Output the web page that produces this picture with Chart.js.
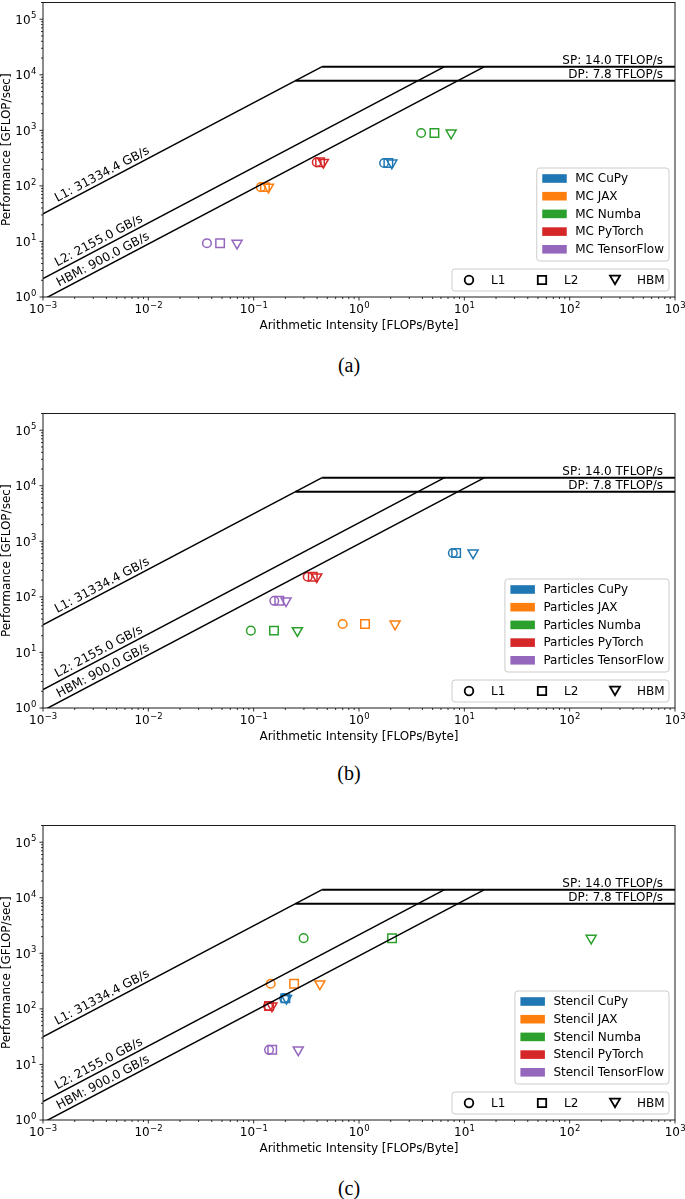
<!DOCTYPE html>
<html>
<head>
<meta charset="utf-8">
<script src="https://cdn.jsdelivr.net/npm/chart.js@4.4.0/dist/chart.umd.min.js"></script>
<style>
  body { margin: 0; background: #fff; width: 685px; height: 1199px; position: relative; overflow: hidden; }
  canvas { position: absolute; left: 0; }
  .cap { position: absolute; left: 0; width: 698px; text-align: center; font-family: "Liberation Serif", serif; font-size: 20px; line-height: 20px; }
</style>
</head>
<body>
<canvas id="chartA" width="685" height="350" style="top:-5px"></canvas>
<div class="cap" style="top:355px">(a)</div>
<canvas id="chartB" width="685" height="350" style="top:406px"></canvas>
<div class="cap" style="top:763px">(b)</div>
<canvas id="chartC" width="685" height="350" style="top:818px"></canvas>
<div class="cap" style="top:1178px">(c)</div>

<script>
// memory levels and machine peaks
const levels = ["L1", "L2", "HBM"];
const bandwidths = [31334.4, 2155.0, 900.0]; // GB/s
const peakNames = ["SP", "DP"];
const peaks = [14000, 7800]; // GFLOP/s

const frameworks = ["CuPy", "JAX", "Numba", "PyTorch", "TensorFlow"];
const colors = ["#1f77b4", "#ff7f0e", "#2ca02c", "#d62728", "#9467bd"];

// tick labels are powers of ten
const xExponents = [-3, -2, -1, 0, 1, 2, 3];
const yExponents = [0, 1, 2, 3, 4, 5];

// (a) MC - intensity per framework for [L1, L2, HBM], one performance value per framework
const mcAI = [
  [1.73, 1.9, 2.05],
  [0.117, 0.128, 0.138],
  [3.89, 5.2, 7.49],
  [0.397, 0.427, 0.459],
  [0.036, 0.048, 0.0695],
];
const mcPerf = [258, 95, 895, 266, 9.3];

// (b) Particles
const particlesAI = [
  [7.78, 8.36, 12.1],
  [0.7, 1.14, 2.2],
  [0.094, 0.156, 0.26],
  [0.326, 0.364, 0.397],
  [0.157, 0.175, 0.203],
];
const particlesPerf = [618, 32.5, 24.7, 230, 85];

// (c) Stencil
const stencilAI = [
  [0.195, 0.2, 0.205],
  [0.145, 0.242, 0.425],
  [0.298, 2.06, 160],
  [0.137, 0.14, 0.149],
  [0.14, 0.15, 0.265],
];
const stencilPerf = [155, 283, 1876, 113, 18.3];

const FONT = "'DejaVu Sans', sans-serif";
const markerStyles = ["circle", "rect", "triangle"];
const markerRotation = [0, 0, 180];
const markerRadius = [4.3, 6, 5.8];

function buildDatasets(ai, perf) {
  const ds = [];
  // memory ceilings
  bandwidths.forEach((bw) => {
    ds.push({
      data: [{ x: 1e-3, y: bw * 1e-3 }, { x: peaks[0] / bw, y: peaks[0] }],
      showLine: true, borderColor: "#000", borderWidth: 1.5, pointRadius: 0,
    });
  });
  // compute ceilings
  peaks.forEach((p) => {
    ds.push({
      data: [{ x: p / bandwidths[0], y: p }, { x: 1e3, y: p }],
      showLine: true, borderColor: "#000", borderWidth: 2, pointRadius: 0,
    });
  });
  // kernels
  frameworks.forEach((fw, i) => {
    ds.push({
      data: ai[i].map((x) => ({ x: x, y: perf[i] })),
      showLine: false,
      pointStyle: markerStyles,
      rotation: markerRotation,
      pointRadius: markerRadius,
      pointBorderWidth: 1.5,
      pointBorderColor: colors[i],
      pointBackgroundColor: "rgba(0,0,0,0)",
    });
  });
  return ds;
}

function drawPow(ctx, exp, x, y, align) {
  const base = "10";
  const sup = exp < 0 ? "\u2212" + (-exp) : String(exp);
  ctx.font = "12px " + FONT;
  const wb = ctx.measureText(base).width;
  ctx.font = "8.5px " + FONT;
  const ws = ctx.measureText(sup).width;
  const x0 = align === "right" ? x - wb - ws : x - (wb + ws) / 2;
  ctx.textAlign = "left";
  ctx.textBaseline = "alphabetic";
  ctx.font = "12px " + FONT;
  ctx.fillText(base, x0, y + 4.3);
  ctx.font = "8.5px " + FONT;
  ctx.fillText(sup, x0 + wb + 0.3, y - 1);
}

function roundBox(ctx, x, y, w, h, r) {
  ctx.beginPath();
  ctx.moveTo(x + r, y);
  ctx.lineTo(x + w - r, y);
  ctx.arcTo(x + w, y, x + w, y + r, r);
  ctx.lineTo(x + w, y + h - r);
  ctx.arcTo(x + w, y + h, x + w - r, y + h, r);
  ctx.lineTo(x + r, y + h);
  ctx.arcTo(x, y + h, x, y + h - r, r);
  ctx.lineTo(x, y + r);
  ctx.arcTo(x, y, x + r, y, r);
  ctx.closePath();
  ctx.fillStyle = "rgba(255,255,255,0.8)";
  ctx.fill();
  ctx.strokeStyle = "#cccccc";
  ctx.lineWidth = 1;
  ctx.stroke();
}

function marker(ctx, style, x, y) {
  ctx.beginPath();
  if (style === "circle") {
    ctx.arc(x, y, 4.3, 0, Math.PI * 2);
  } else if (style === "rect") {
    ctx.rect(x - 4.2, y - 4.2, 8.4, 8.4);
  } else {
    ctx.moveTo(x - 5, y - 4.3);
    ctx.lineTo(x + 5, y - 4.3);
    ctx.lineTo(x, y + 4.3);
    ctx.closePath();
  }
  ctx.stroke();
}

const decorPlugin = {
  id: "decor",
  afterDatasetsDraw(chart, args, opts) {
    const ctx = chart.ctx;
    const { left, right, top, bottom } = chart.chartArea;
    const xs = chart.scales.x;
    const ys = chart.scales.y;
    ctx.save();

    // frame
    ctx.strokeStyle = "#1a1a1a";
    ctx.lineWidth = 1;
    ctx.strokeRect(left, top, right - left, bottom - top);

    // tick marks
    ctx.lineWidth = 0.9;
    ctx.beginPath();
    for (let e = -3; e <= 3; e++) {
      for (let m = 1; m <= 9; m++) {
        const v = m * Math.pow(10, e);
        if (v > xs.max * 1.0001) continue;
        const px = xs.getPixelForValue(v);
        ctx.moveTo(px, bottom);
        ctx.lineTo(px, bottom + (m === 1 ? 3.5 : 2));
      }
    }
    for (let e = 0; e <= 5; e++) {
      for (let m = 1; m <= 9; m++) {
        const v = m * Math.pow(10, e);
        if (v > ys.max * 1.0001) continue;
        const py = ys.getPixelForValue(v);
        ctx.moveTo(left, py);
        ctx.lineTo(left - (m === 1 ? 3.5 : 2), py);
      }
    }
    ctx.stroke();

    // tick labels
    ctx.fillStyle = "#000";
    xExponents.forEach((e) => drawPow(ctx, e, xs.getPixelForValue(Math.pow(10, e)), bottom + 11.5, "center"));
    yExponents.forEach((e) => drawPow(ctx, e, left - 7, ys.getPixelForValue(Math.pow(10, e)), "right"));

    // axis titles
    ctx.font = "12px " + FONT;
    ctx.textAlign = "center";
    ctx.textBaseline = "alphabetic";
    ctx.fillText("Arithmetic Intensity [FLOPs/Byte]", (left + right) / 2, bottom + 32);
    ctx.save();
    ctx.translate(10, (top + bottom) / 2);
    ctx.rotate(-Math.PI / 2);
    ctx.fillText("Performance [GFLOP/sec]", 0, 0);
    ctx.restore();

    // ceiling labels
    ctx.font = "12.2px " + FONT;
    const dx = xs.getPixelForValue(10) - xs.getPixelForValue(1);
    const dy = ys.getPixelForValue(10) - ys.getPixelForValue(1);
    const ang = Math.atan2(dy, dx);
    bandwidths.forEach((bw, i) => {
      const a0 = i === 2 ? 1.48e-3 : 1.42e-3;
      const px = xs.getPixelForValue(a0);
      const py = ys.getPixelForValue(bw * a0);
      ctx.save();
      ctx.translate(px, py);
      ctx.rotate(ang);
      ctx.textAlign = "left";
      ctx.fillText(levels[i] + ": " + bw.toFixed(1) + " GB/s", 0, -4);
      ctx.restore();
    });
    ctx.font = "12px " + FONT;
    ctx.textAlign = "right";
    peaks.forEach((p, i) => {
      ctx.fillText(peakNames[i] + ": " + (p / 1000).toFixed(1) + " TFLOP/s", right - 12, ys.getPixelForValue(p) - 2.5);
    });

    // framework legend
    ctx.font = "12px " + FONT;
    const names = frameworks.map((f) => opts.prefix + " " + f);
    const tw = Math.max(...names.map((n) => ctx.measureText(n).width));
    const bw = 5.5 + 24.5 + 8.5 + tw + 5;
    const bx = right - 6 - bw;
    const by = bottom - 36 - 93;
    roundBox(ctx, bx, by, bw, 93, 3);
    ctx.textAlign = "left";
    ctx.textBaseline = "middle";
    names.forEach((n, i) => {
      const cy = by + 10.5 + i * 17.7;
      ctx.fillStyle = colors[i];
      ctx.fillRect(bx + 5.5, cy - 4.3, 24.5, 8.6);
      ctx.fillStyle = "#000";
      ctx.fillText(n, bx + 38.5, cy + 0.5);
    });

    // level legend
    const lx = right - 223;
    const ly = bottom - 28;
    roundBox(ctx, lx, ly, 217, 22, 3);
    ctx.strokeStyle = "#000";
    ctx.lineWidth = 1.8;
    ctx.fillStyle = "#000";
    levels.forEach((l, i) => {
      const mx = right - 206 + i * 73;
      marker(ctx, markerStyles[i], mx, ly + 11);
      ctx.fillText(l, mx + 22, ly + 11.5);
    });

    ctx.restore();
  },
};

function makeChart(id, prefix, ai, perf) {
  return new Chart(document.getElementById(id), {
    type: "scatter",
    data: { datasets: buildDatasets(ai, perf) },
    options: {
      responsive: false,
      animation: false,
      events: [],
      layout: { padding: { top: 5, right: 10, bottom: 0, left: 0 } },
      plugins: {
        legend: { display: false },
        tooltip: { enabled: false },
        decor: { prefix: prefix },
      },
      scales: {
        x: {
          type: "logarithmic", min: 1e-3, max: 1e3,
          grid: { display: false }, border: { display: false }, ticks: { display: false },
          afterFit: (s) => { s.height = 48; },
        },
        y: {
          type: "logarithmic", min: 1, max: 2e5,
          grid: { display: false }, border: { display: false }, ticks: { display: false },
          afterFit: (s) => { s.width = 43; },
        },
      },
    },
    plugins: [decorPlugin],
  });
}

makeChart("chartA", "MC", mcAI, mcPerf);
makeChart("chartB", "Particles", particlesAI, particlesPerf);
makeChart("chartC", "Stencil", stencilAI, stencilPerf);
</script>
</body>
</html>
